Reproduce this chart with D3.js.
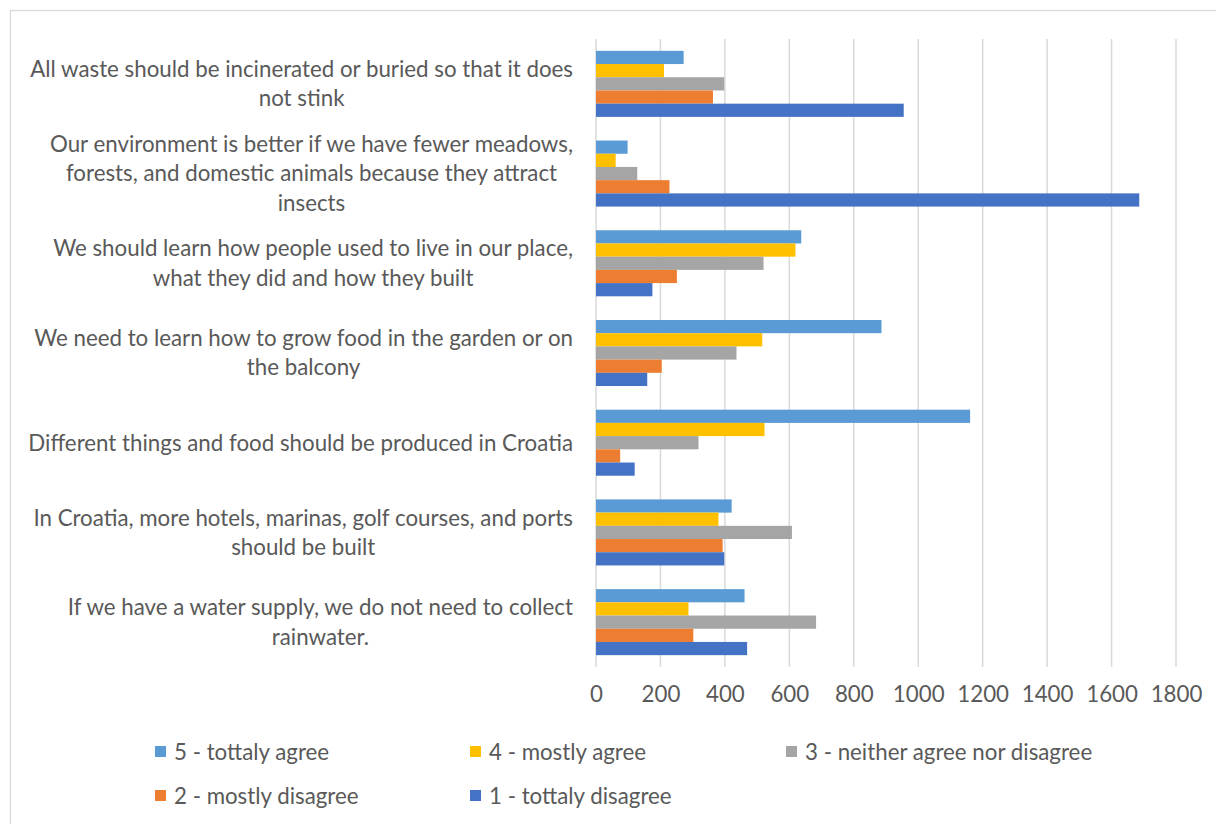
<!DOCTYPE html>
<html>
<head>
<meta charset="utf-8">
<script src="https://cdn.jsdelivr.net/npm/d3@7"></script>
<style>
    body { margin: 0; background: #fff; }
    svg { display: block; font-family: Lato, "Open Sans", sans-serif; }
    .cat-label, .tick text, .legend-label { fill: #595959; font-size: 22.3px; }
</style>
</head>
<body>
<div id="chart"></div>
<script>
// Data
const statements = [
    ["All waste should be incinerated or buried so that it does", "not stink"],
    ["Our environment is better if we have fewer meadows,", "forests, and domestic animals because they attract", "insects"],
    ["We should learn how people used to live in our place,", "what they did and how they built"],
    ["We need to learn how to grow food in the garden or on", "the balcony"],
    ["Different things and food should be produced in Croatia"],
    ["In Croatia, more hotels, marinas, golf courses, and ports", "should be built"],
    ["If we have a water supply, we do not need to collect", "rainwater."]
];

const seriesNames = [
    "5 - tottaly agree",
    "4 - mostly agree",
    "3 - neither agree nor disagree",
    "2 - mostly disagree",
    "1 - tottaly disagree"
];

// one array per answer, same order as statements
const agree5 = [272, 98, 637, 886, 1161, 421, 461];
const agree4 = [211, 61, 619, 516, 523, 380, 287];
const neutral3 = [398, 128, 520, 436, 318, 608, 683];
const disagree2 = [363, 228, 251, 204, 75, 393, 302];
const disagree1 = [955, 1686, 175, 159, 120, 398, 469];

const xTicks = [0, 200, 400, 600, 800, 1000, 1200, 1400, 1600, 1800];

const colors = ["#5B9BD5", "#FFC000", "#A5A5A5", "#ED7D31", "#4472C4"];

const seriesValues = [agree5, agree4, neutral3, disagree2, disagree1];

const width = 1216;
const height = 824;

const svg = d3.select("#chart")
    .append("svg")
    .attr("width", width)
    .attr("height", height);

// chart frame
svg.append("rect")
    .attr("x", 10.5)
    .attr("y", 10.5)
    .attr("width", width)
    .attr("height", height)
    .attr("fill", "none")
    .attr("stroke", "#d9d9d9")
    .attr("stroke-width", 1.3);

const plot = { left: 596, right: 1176, top: 39, bottom: 667 };

const xScale = d3.scaleLinear()
    .domain([0, 1800])
    .range([plot.left, plot.right]);

const yScale = d3.scaleBand()
    .domain(d3.range(statements.length))
    .range([plot.top, plot.bottom])
    .paddingInner(0.264)
    .paddingOuter(0.132);

const ySub = d3.scaleBand()
    .domain(d3.range(seriesNames.length))
    .range([0, yScale.bandwidth()]);

// grid
svg.append("g")
    .selectAll("line")
    .data(xTicks)
    .join("line")
    .attr("x1", d => xScale(d))
    .attr("x2", d => xScale(d))
    .attr("y1", plot.top)
    .attr("y2", plot.bottom)
    .attr("stroke", "#d9d9d9")
    .attr("stroke-width", 1.5);

// bars
const groups = svg.append("g")
    .selectAll("g")
    .data(statements.map((s, i) => i))
    .join("g")
    .attr("transform", i => `translate(0, ${yScale(i)})`);

groups.selectAll("rect")
    .data(i => seriesValues.map((vals, k) => ({ k, v: vals[i] })))
    .join("rect")
    .attr("x", xScale(0))
    .attr("y", d => ySub(d.k))
    .attr("width", d => xScale(d.v) - xScale(0))
    .attr("height", ySub.bandwidth())
    .attr("fill", d => colors[d.k]);

// x axis labels
const xAxis = svg.append("g")
    .attr("transform", `translate(0, ${plot.bottom})`)
    .call(d3.axisBottom(xScale).tickValues(xTicks).tickSize(0).tickFormat(d3.format("d")));

xAxis.select(".domain").remove();
xAxis.selectAll("text")
    .attr("class", null)
    .attr("y", 27)
    .attr("dy", "0.35em")
    .attr("fill", "#595959")
    .style("font-size", "22.3px")
    .style("font-family", "Lato, sans-serif");

// category labels: lines centred inside a block that is right aligned
const labelRight = 573;
const lineHeight = 29.3;

statements.forEach((lines, i) => {
    const cy = yScale(i) + yScale.bandwidth() / 2;
    const g = svg.append("g");
    const texts = lines.map((line, j) => g.append("text")
        .attr("class", "cat-label")
        .attr("text-anchor", "middle")
        .attr("dy", "0.35em")
        .attr("y", cy + (j - (lines.length - 1) / 2) * lineHeight)
        .text(line));
    const maxW = d3.max(texts, t => t.node().getComputedTextLength());
    texts.forEach(t => t.attr("x", labelRight - maxW / 2));
});

// legend
const legendCols = [155, 470, 786];
const legendRows = [752, 796];

const legend = svg.append("g")
    .selectAll("g")
    .data(seriesNames)
    .join("g")
    .attr("transform", (d, i) => `translate(${legendCols[i % 3]}, ${legendRows[Math.floor(i / 3)]})`);

legend.append("rect")
    .attr("x", 0)
    .attr("y", -6)
    .attr("width", 11)
    .attr("height", 11)
    .attr("fill", (d, i) => colors[i]);

legend.append("text")
    .attr("class", "legend-label")
    .attr("x", 19)
    .attr("dy", "0.35em")
    .text(d => d);
</script>
</body>
</html>
